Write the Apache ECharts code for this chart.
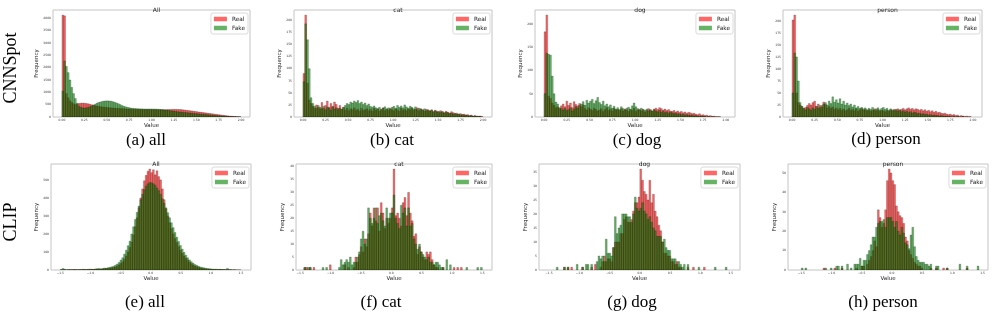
<!DOCTYPE html>
<html><head><meta charset="utf-8">
<script src="https://cdn.jsdelivr.net/npm/echarts@6/dist/echarts.min.js"></script>
<style>html,body{margin:0;padding:0;background:#fff}#c{width:997px;height:314px}</style>
</head><body><div id="c"></div>
<script>
// ---------- DATA ----------
const cnnBinStart = 0, cnnBinWidth = 0.02;     // top row: 100 bins over 0..2
const clipBinStart = -1.5, clipBinWidth = 0.03; // bottom row: 100 bins over -1.5..1.5

const cnnXTicks = [0, 0.25, 0.5, 0.75, 1.0, 1.25, 1.5, 1.75, 2.0];
const clipXTicks = [-1.5, -1.0, -0.5, 0.0, 0.5, 1.0, 1.5];
const yTicksA = [0,500,1000,1500,2000,2500,3000,3500,4000];
const yTicksB = [0,25,50,75,100,125,150,175,200];
const yTicksC = [0,50,100,150,200];
const yTicksD = [0,25,50,75,100,125,150,175,200];
const yTicksE = [0,100,200,300,400,500];
const yTicksF = [0,5,10,15,20,25,30,35,40];
const yTicksG = [0,5,10,15,20,25,30,35];
const yTicksH = [0,10,20,30,40,50];

const titles = ['All','cat','dog','person','All','cat','dog','person'];
const captions = ['(a) all','(b) cat','(c) dog','(d) person','(e) all','(f) cat','(g) dog','(h) person'];
const rowLabels = ['CNNSpot','CLIP'];
const seriesNames = ['Real','Fake'];

const cnnAllReal = [4130,4100,950,780,660,590,540,500,520,545,
 560,565,560,550,540,520,500,480,460,445,
 430,420,410,400,395,385,380,370,365,360,
 355,350,345,340,335,330,325,320,318,315,
 312,309,311,304,306,302,301,299,300,296,
 297,294,296,293,295,294,297,298,301,303,
 305,309,311,310,308,304,300,292,285,274,
 266,255,246,234,226,214,206,194,186,174,
 166,154,146,134,126,114,106,94,86,74,
 66,55,48,40,33,27,21,16,11,7];
const cnnAllFake = [1050,2270,2050,1800,1500,1200,950,750,560,430,
 390,370,365,370,385,410,440,480,520,560,
 590,610,630,645,652,655,650,642,620,600,
 570,540,505,470,440,415,395,380,365,355,
 345,340,336,330,331,327,326,324,326,327,
 326,325,322,318,312,305,295,285,275,265,
 255,245,235,225,215,205,198,190,182,175,
 168,160,153,146,139,132,125,118,111,104,
 97,90,83,76,69,62,56,50,44,38,
 33,28,23,19,15,12,9,6,4,2];

const cnnCatReal = [90,211,70,35,28,22,18,25,20,17,
 30,18,24,33,20,28,22,31,26,18,
 24,16,20,14,18,13,17,15,19,14,
 16,12,18,14,15,17,13,16,12,18,
 14,17,12,15,19,13,16,14,18,15,
 13,17,15,12,18,14,16,13,17,15,
 18,14,16,19,13,17,15,12,16,14,
 13,15,11,14,12,10,13,11,9,12,
 10,8,11,9,7,8,6,7,5,6,
 4,5,3,4,2,3,2,1,2,1];
const cnnCatFake = [73,193,160,100,40,28,22,18,24,20,
 17,22,15,20,18,14,21,16,19,15,
 18,16,20,24,28,26,31,29,33,30,
 34,28,31,26,29,24,27,22,20,23,
 19,17,20,16,18,21,17,19,16,20,
 22,18,24,20,23,19,25,21,18,22,
 20,17,21,15,18,16,14,17,13,15,
 12,14,11,13,10,12,9,11,8,10,
 9,7,8,6,7,5,6,4,5,3,
 4,3,2,3,1,2,1,2,1,0];

const cnnDogReal = [183,219,45,40,30,25,20,22,18,24,
 28,22,34,25,30,20,33,27,24,29,
 22,26,18,15,20,17,14,19,16,13,
 15,18,12,16,20,14,17,13,19,15,
 16,14,18,13,17,15,12,16,14,18,
 12,15,17,13,16,11,14,18,15,13,
 17,19,16,20,18,15,17,14,16,13,
 12,14,11,13,10,12,9,11,8,10,
 9,7,8,6,5,7,4,5,3,4,
 2,3,1,2,1,0,1,0,0,0];
const cnnDogFake = [50,137,135,133,88,50,32,28,20,18,
 15,18,14,16,20,13,17,22,19,25,
 28,33,25,36,30,34,38,29,35,42,
 31,27,34,24,28,22,26,19,23,17,
 20,16,22,18,15,19,21,17,24,30,
 22,18,15,19,16,14,17,13,16,12,
 15,13,11,14,10,12,9,11,8,10,
 9,7,8,6,7,5,6,4,5,4,
 3,4,2,3,2,1,2,1,1,0,
 1,0,1,0,0,1,0,0,0,0];

const cnnPersonReal = [202,212,50,30,25,22,18,20,24,28,
 25,30,33,22,27,20,24,31,26,19,
 22,18,21,16,19,15,18,14,17,13,
 15,18,14,16,13,17,12,15,18,14,
 16,13,15,12,14,17,13,15,12,14,
 13,11,14,12,15,13,16,14,17,15,
 16,18,15,17,19,16,18,15,17,16,
 14,16,13,15,12,14,11,13,10,12,
 9,10,8,7,8,6,5,6,4,5,
 3,4,2,3,2,1,2,1,1,0];
const cnnPersonFake = [50,133,125,75,30,22,18,15,20,17,
 14,19,16,22,18,24,20,27,30,25,
 33,28,42,31,36,29,38,27,33,25,
 29,24,27,21,25,19,22,18,20,17,
 19,15,18,16,20,14,17,19,15,18,
 20,16,18,14,17,15,13,16,12,14,
 11,13,10,12,9,11,8,10,9,7,
 8,6,7,5,6,4,5,3,4,3,
 3,2,3,2,1,2,1,1,0,1,
 0,1,0,0,1,0,0,0,0,0];

const clipAllReal = [1,2,1,0,1,2,1,1,2,1,
 2,1,2,3,2,3,2,4,3,4,
 5,4,6,5,7,8,9,10,12,14,
 17,21,28,36,46,60,78,100,125,155,
 195,240,290,345,400,450,495,525,548,560,
 540,556,528,550,518,500,450,390,340,300,
 262,230,200,175,152,130,110,93,78,65,
 54,44,35,28,22,18,14,11,9,7,
 6,5,4,4,3,3,2,2,3,2,
 2,1,2,1,1,0,1,0,1,0];
const clipAllFake = [3,8,4,2,3,1,2,3,2,1,
 2,3,4,3,2,4,5,3,4,6,
 7,8,6,9,11,10,13,15,18,21,
 27,33,42,55,68,88,110,135,160,200,
 240,280,320,355,390,420,445,465,478,485,
 484,478,470,455,440,420,395,370,345,318,
 290,262,235,208,182,158,136,116,98,82,
 68,56,46,38,31,26,21,17,14,12,
 10,8,7,6,5,4,5,3,4,3,
 3,2,9,2,1,2,1,1,0,1];

const clipCatReal = [0,0,1,1,0,1,0,1,0,0,
 0,0,0,0,0,0,2,0,0,0,
 0,0,0,0,2,0,1,0,0,1,
 5,3,6,9,7,12,9,14,22,17,
 24,19,24,15,26,22,16,20,18,20,
 24,39,21,22,20,17,26,28,21,30,
 22,19,13,14,6,9,7,5,4,7,
 6,7,4,2,1,1,0,0,1,0,
 0,0,0,0,1,0,1,0,1,0,
 0,0,0,0,0,0,0,0,0,0];
const clipCatFake = [0,0,1,0,1,1,0,0,0,0,
 0,0,1,0,1,0,0,0,0,0,
 0,1,4,2,3,4,3,5,2,3,
 3,5,7,12,15,10,12,24,20,18,
 20,24,18,21,22,19,17,24,20,22,
 22,29,20,18,16,25,22,24,17,24,
 17,18,12,10,8,10,7,6,5,4,
 5,3,3,2,3,3,2,1,1,0,
 4,0,2,0,0,0,0,0,0,0,
 0,1,0,0,0,0,0,1,0,1];

const clipDogReal = [0,0,0,0,0,0,0,0,1,0,
 1,0,1,0,0,0,0,0,1,0,
 0,0,0,1,0,2,0,0,1,3,
 5,3,4,4,3,8,10,10,10,13,
 13,18,19,17,17,18,21,24,24,26,
 36,32,28,27,25,32,24,27,21,19,
 16,14,10,6,6,5,5,3,3,2,
 3,1,1,0,0,0,1,0,0,1,
 0,0,0,0,0,1,0,0,0,0,
 0,0,0,0,0,0,0,0,0,0];
const clipDogFake = [0,0,0,0,1,0,0,0,1,0,
 1,0,0,0,0,2,0,0,1,0,
 2,2,0,2,0,0,3,5,4,5,
 3,11,6,6,5,8,19,13,15,16,
 20,20,20,19,19,17,20,26,22,21,
 22,24,21,20,18,19,17,15,14,12,
 12,12,10,11,8,7,7,4,4,4,
 2,3,2,1,2,0,2,0,0,0,
 0,0,1,0,0,0,0,0,0,0,
 0,1,0,0,0,0,0,1,0,0];

const clipPersonReal = [0,0,0,0,0,0,0,0,0,0,
 0,0,1,0,0,0,0,0,1,0,
 0,0,1,0,0,0,0,0,0,0,
 1,0,0,2,2,0,3,5,7,10,
 15,12,31,27,22,24,31,46,52,50,
 46,44,33,30,28,27,24,17,15,10,
 8,6,4,3,2,2,1,0,0,0,
 0,1,0,0,1,0,0,0,1,0,
 1,0,0,0,0,0,0,0,0,0,
 0,1,0,0,0,0,0,0,0,0];
const clipPersonFake = [1,0,1,0,0,0,0,0,0,0,
 0,0,0,1,0,0,1,0,0,2,
 2,0,2,0,0,3,0,1,0,3,
 3,3,6,2,5,5,8,10,13,17,
 17,22,24,25,25,26,22,27,27,27,
 25,22,25,20,18,22,19,14,13,11,
 18,22,12,7,5,4,4,4,3,3,
 2,3,0,0,2,2,0,0,0,0,
 1,0,0,0,0,0,0,3,0,0,
 0,2,0,0,0,0,0,2,0,0];

// ---------- LAYOUT / STYLE ----------
const W = 997;
const realColor = 'rgba(255,0,0,0.6)';
const fakeColor = 'rgba(0,128,0,0.6)';

const panels = [
 {real:cnnAllReal, fake:cnnAllFake, top:true, yTicks:yTicksA, xr:[-0.1,2.1], g:{left:53,top:10,width:197,height:107}, cap:[146,141]},
 {real:cnnCatReal, fake:cnnCatFake, top:true, yTicks:yTicksB, xr:[-0.1,2.1], g:{left:294,top:10,width:198,height:107}, cap:[392,141]},
 {real:cnnDogReal, fake:cnnDogFake, top:true, yTicks:yTicksC, xr:[-0.1,2.1], g:{left:535,top:10,width:200,height:107}, cap:[637,141]},
 {real:cnnPersonReal, fake:cnnPersonFake, top:true, yTicks:yTicksD, xr:[-0.1,2.1], g:{left:783,top:10,width:199,height:107}, cap:[886,140]},
 {real:clipAllReal, fake:clipAllFake, top:false, yTicks:yTicksE, xr:[-1.655,1.666], g:{left:51,top:164,width:200,height:106}, cap:[145,303]},
 {real:clipCatReal, fake:clipCatFake, top:false, yTicks:yTicksF, xr:[-1.57,1.66], g:{left:296,top:164,width:196,height:106}, cap:[381,303]},
 {real:clipDogReal, fake:clipDogFake, top:false, yTicks:yTicksG, xr:[-1.665,1.654], g:{left:539,top:164,width:201,height:106}, cap:[632,303]},
 {real:clipPersonReal, fake:clipPersonFake, top:false, yTicks:yTicksH, xr:[-1.72,1.59], g:{left:788,top:164,width:200,height:106}, cap:[883,303]}
];

function fmtX(top){
  return v => top ? v.toFixed(2) : v.toFixed(1).replace('-', '\u2212');
}

function histSeries(name, counts, start, bw, color, k){
  return {
    type:'custom', name, xAxisIndex:k, yAxisIndex:k,
    data: counts.map((c,i)=>[start + i*bw, c]),
    encode:{x:0, y:1},
    itemStyle:{color},
    clip:true, silent:true, animation:false,
    renderItem:(params, api)=>{
      const x0 = api.value(0), c = api.value(1);
      if (!c) return null;
      const a = api.coord([x0, c]);
      const b = api.coord([x0 + bw, 0]);
      return {type:'rect', shape:{x:a[0], y:a[1], width:b[0]-a[0], height:b[1]-a[1]},
        style:{fill:color, stroke:'rgba(0,0,0,0.45)', lineWidth:0.45}};
    }
  };
}

const grid=[], xAxis=[], yAxis=[], series=[], title=[], legend=[], graphic=[];
panels.forEach((p,k)=>{
  grid.push(Object.assign({show:true, borderColor:'#c4c4c4', borderWidth:1, containLabel:false}, p.g));
  const start = p.top ? cnnBinStart : clipBinStart;
  const bw = p.top ? cnnBinWidth : clipBinWidth;
  xAxis.push({gridIndex:k, type:'value', min:p.xr[0], max:p.xr[1],
    axisLine:{show:false}, axisTick:{show:false}, splitLine:{show:false},
    axisLabel:{customValues: p.top ? cnnXTicks : clipXTicks, formatter: fmtX(p.top), fontSize:3, margin:2, color:'#333'},
    name:'Value', nameLocation:'middle', nameGap:6, nameTextStyle:{fontSize:5.5, color:'#222'}});
  const ymax = Math.max(...p.real, ...p.fake) * 1.05;
  yAxis.push({gridIndex:k, type:'value', min:0, max:ymax,
    axisLine:{show:false}, axisTick:{show:false}, splitLine:{show:false},
    axisLabel:{customValues:p.yTicks, formatter:v=>String(v), fontSize:3, margin:2, color:'#333'},
    name:'Frequency', nameLocation:'middle', nameGap:10, nameRotate:90, nameTextStyle:{fontSize:5.5, color:'#222'}});
  series.push(histSeries(seriesNames[0], p.real, start, bw, realColor, k));
  series.push(histSeries(seriesNames[1], p.fake, start, bw, fakeColor, k));
  title.push({text:titles[k], left:p.g.left + p.g.width/2, top:p.g.top - 8, textAlign:'center',
    textStyle:{fontSize:6, fontWeight:'normal', color:'#222'}});
  legend.push({data:seriesNames, orient:'vertical', icon:'rect', selectedMode:false,
    right: W - (p.g.left + p.g.width) + 2, top: p.g.top + 3,
    itemWidth:13, itemHeight:4.5, itemGap:3, padding:[3,3],
    backgroundColor:'#fff', borderColor:'#d0d0d0', borderWidth:0.8, borderRadius:2,
    itemStyle:{borderWidth:0},
    textStyle:{fontSize:5.8, color:'#222'}});
  graphic.push({type:'text', x:p.cap[0], y:p.cap[1],
    style:{text:captions[k], font:'17px "Liberation Serif"', fill:'#000', align:'center', verticalAlign:'middle'}});
});
graphic.push({type:'text', x:11, y:68, rotation:Math.PI/2,
  style:{text:rowLabels[0], font:'18px "Liberation Serif"', fill:'#000', align:'center', verticalAlign:'middle'}});
graphic.push({type:'text', x:11, y:222, rotation:Math.PI/2,
  style:{text:rowLabels[1], font:'18px "Liberation Serif"', fill:'#000', align:'center', verticalAlign:'middle'}});

const chart = echarts.init(document.getElementById('c'), null, {renderer:'canvas'});
chart.setOption({
  animation:false,
  backgroundColor:'#fff',
  textStyle:{fontFamily:'DejaVu Sans'},
  grid, xAxis, yAxis, series, title, legend, graphic
});
</script></body></html>
